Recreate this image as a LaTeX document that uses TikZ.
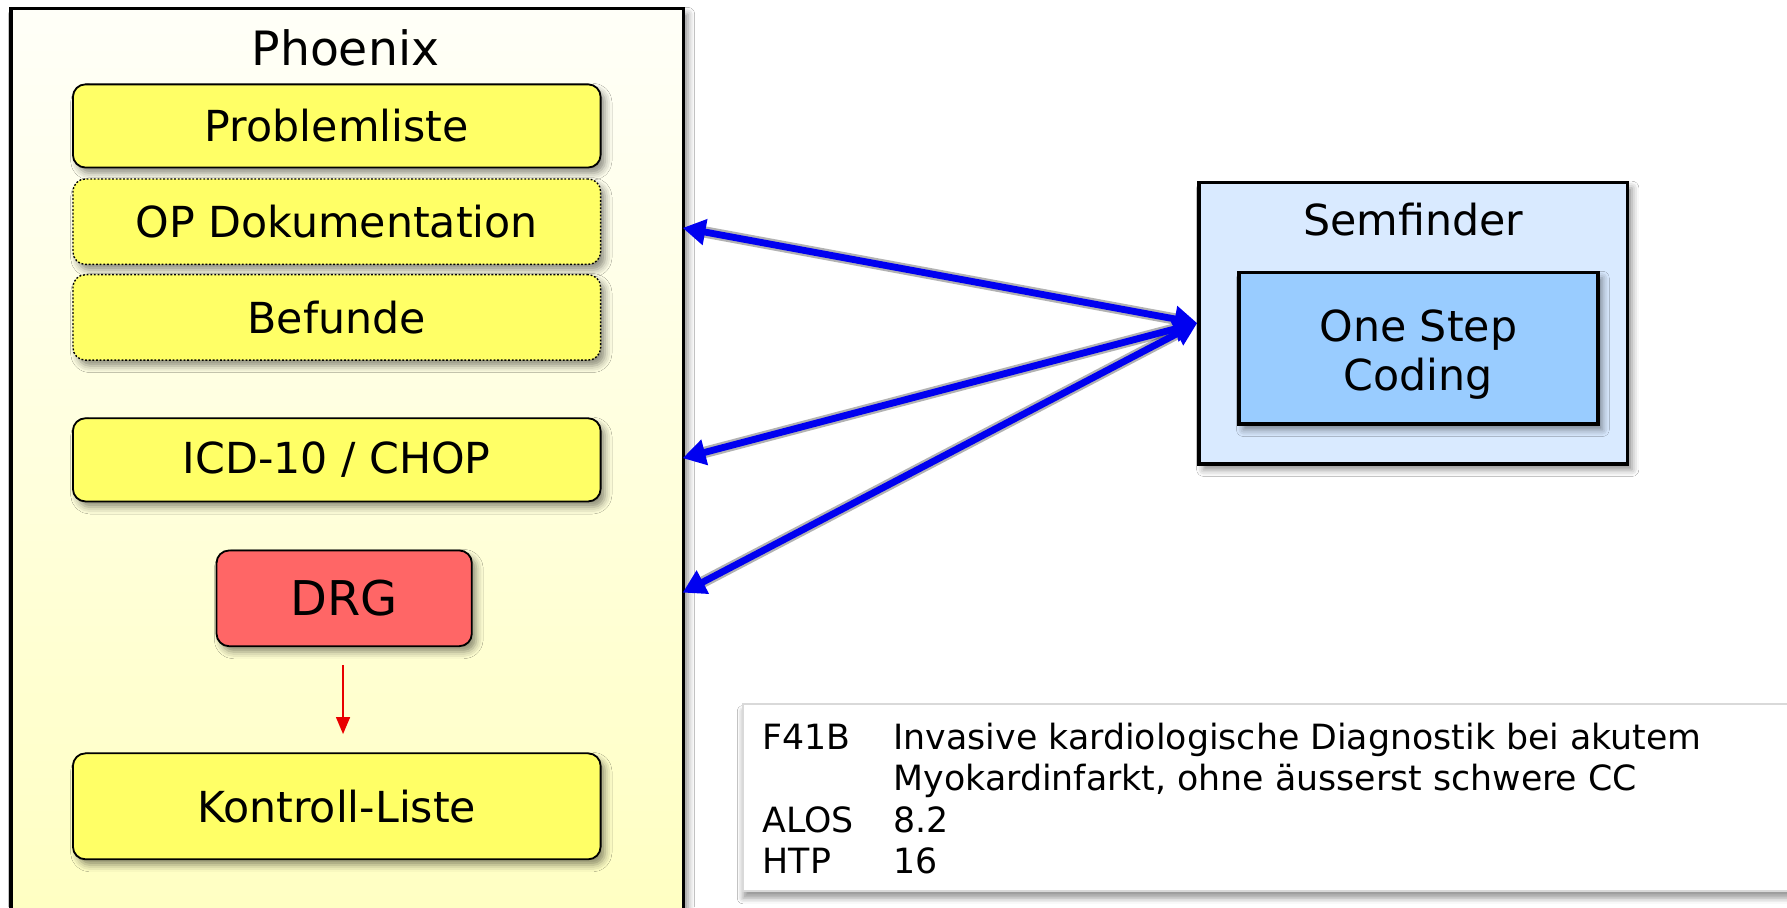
\documentclass[tikz,border=0pt]{standalone}
\usepackage{fontspec}
\setmainfont{DejaVu Sans}
\usetikzlibrary{shadows.blur,arrows.meta,calc}
\definecolor{boxyellow}{HTML}{FFFF66}
\definecolor{boxred}{HTML}{FF6666}
\definecolor{semlight}{HTML}{D9EAFF}
\definecolor{semdark}{HTML}{99CCFF}
\definecolor{phxtop}{HTML}{FFFFF8}
\definecolor{phxbottom}{HTML}{FFFFC0}
\definecolor{arrowblue}{HTML}{0000F0}
\definecolor{arrowred}{HTML}{E80000}
\tikzset{
  softshadow/.style={blur shadow={shadow blur radius=6pt, shadow xshift=4pt, shadow yshift=-5pt, shadow opacity=45}},
  phoenixbox/.style={draw=black, line width=3pt, top color=phxtop, bottom color=phxbottom, inner sep=0pt, anchor=north west, softshadow},
  ybox/.style={draw=black, line width=1.6pt, fill=boxyellow, rounded corners=11pt, minimum width=463pt, inner sep=0pt, softshadow, font=\fontsize{37.5}{43}\selectfont},
  ydotbox/.style={ybox, line width=1.2pt, dash pattern=on 1.6pt off 1.6pt},
  rbox/.style={ybox, fill=boxred, minimum width=224pt, font=\fontsize{42}{48}\selectfont},
  semouter/.style={draw=black, line width=3pt, fill=semlight, minimum width=376pt, minimum height=247pt, inner sep=0pt, softshadow},
  seminner/.style={draw=black, line width=3pt, fill=semdark, minimum width=315pt, minimum height=133pt, inner sep=0pt, softshadow},
  semtext/.style={inner sep=0pt, align=center, font=\fontsize{37.5}{43}\selectfont},
  titletext/.style={inner sep=0pt, font=\fontsize{41.5}{46}\selectfont},
  semtitle/.style={inner sep=0pt, font=\fontsize{37.5}{43}\selectfont},
  bluearrow/.style={draw=arrowblue, line width=6pt, {Triangle[length=20pt,width=22pt]}-{Triangle[length=20pt,width=22pt]}},
  blueshadow/.style={draw=black, opacity=0.3, line width=10pt, line cap=round},
  redarrow/.style={draw=arrowred, line width=2.2pt, -{Triangle[length=15pt,width=12pt]}},
  infobox/.style={draw=black!15, line width=1.5pt, fill=white, blur shadow={shadow blur radius=5pt, shadow xshift=0pt, shadow yshift=-6pt, shadow opacity=40}},
}
\begin{document}
\begin{tikzpicture}[x=1pt,y=-1pt]
\useasboundingbox (0,0) rectangle (1568,796);
\clip (0,0) rectangle (1568,796);
\fill[white] (0,0) rectangle (1568,796);

% Phoenix container
\node[phoenixbox, minimum width=590pt, minimum height=830pt] (phoenix) at (8,6) {};
\node[titletext] (phxtitle) at (303,42) {Phoenix};

\node[ybox, minimum height=73pt] (problem) at (295.5,110.5) {Problemliste};
\node[ydotbox, minimum height=75pt] (opdoc) at (295.5,194.5) {OP Dokumentation};
\node[ydotbox, minimum height=75pt] (befunde) at (295.5,278.5) {Befunde};
\node[ybox, minimum height=73pt] (icd) at (295.5,403.5) {ICD-10 / CHOP};
\node[rbox, minimum height=84pt] (drg) at (302,525) {DRG};
\node[ybox, minimum height=93pt] (kontroll) at (295.5,707.5) {Kontroll-Liste};

\draw[redarrow, shorten <=16pt, shorten >=16pt] ($(drg.south)+(-1,0)$) coordinate (drgs) -- (drgs |- kontroll.north);

% Semfinder
\node[semouter] (sem) at (1240,283.5) {};
\node[semtitle] (semtitle) at (1240,193) {Semfinder};
\node[seminner] (osc) at (1244.5,305.5) {};
\node[semtext] (osctext) at (1244.5,311) {One Step\\Coding};

% connection points on Phoenix border
\coordinate (p1) at (599,200);
\coordinate (p2) at (599,402);
\coordinate (p3) at (599,520);

\foreach \p in {p1,p2,p3}{
  \draw[blueshadow, shift={(1.5pt,-2pt)}] ($(sem.west)!14pt!(\p)$) -- ($(\p)!14pt!(sem.west)$);
}
\draw[bluearrow] (sem.west) -- (p1);
\draw[bluearrow] (sem.west) -- (p2);
\draw[bluearrow] (sem.west) -- (p3);

% info box
\path[infobox] (652,618) rectangle (1610,782);
\node[anchor=north west, inner sep=0pt, font=\fontsize{30.5}{36.5}\selectfont] (info) at (669,631.5) {%
\begin{tabular}{@{}p{115pt}@{}l@{}}
F41B & Invasive kardiologische Diagnostik bei akutem\\
 & Myokardinfarkt, ohne äusserst schwere CC\\
ALOS & 8.2\\
HTP & 16
\end{tabular}};
\end{tikzpicture}
\end{document}
